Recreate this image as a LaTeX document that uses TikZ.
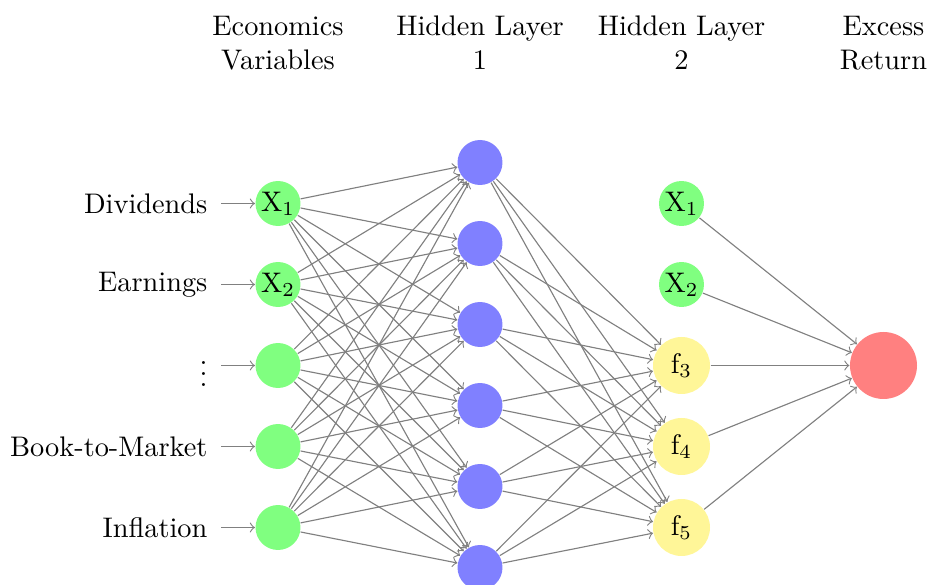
\documentclass[tikz,border=0pt]{standalone}
\definecolor{ingreen}{RGB}{128,255,128}
\definecolor{hidblue}{RGB}{128,128,255}
\definecolor{facyellow}{RGB}{255,246,152}
\definecolor{outred}{RGB}{255,128,128}
\begin{document}
\begin{tikzpicture}[x=0.0124cm,y=-0.0124cm,
  neuron/.style={circle, minimum size=0.558cm, inner sep=0pt},
  inp/.style={neuron, fill=ingreen},
  hid/.style={neuron, fill=hidblue},
  fac/.style={circle, minimum size=0.707cm, inner sep=0pt, fill=facyellow},
  outn/.style={circle, minimum size=0.831cm, inner sep=0pt, fill=outred},
  conn/.style={->, draw=black!50},
  lbl/.style={anchor=east, inner xsep=4.6pt},
  hdr/.style={align=center}]
\useasboundingbox (0,0) rectangle (928,585);

% headers
\node[hdr] (h0) at (278,43) {Economics\\Variables};
\node[hdr] (h1) at (480,43) {Hidden Layer\\1};
\node[hdr] (h2) at (681.5,43) {Hidden Layer\\2};
\node[hdr] (h3) at (883.5,43) {Excess\\Return};

% input layer
\foreach \k/\t/\l in {1/X$_1$/Dividends, 2/X$_2$/Earnings, 3//$\vdots$, 4//Book-to-Market, 5//Inflation}{
  \node[inp] (I-\k) at (278,{203.5+81*(\k-1)}) {\t};
  \node[lbl] (L-\k) at (221,{203.5+81*(\k-1)}) {\l};
  \draw[conn] (L-\k.east) -- (I-\k);
}

% hidden layer 1
\foreach \k in {1,...,6}{
  \node[hid] (H-\k) at (480,{162.5+81*(\k-1)}) {};
}

% hidden layer 2
\node[inp] (G-1) at (681.5,203.5) {X$_1$};
\node[inp] (G-2) at (681.5,284.5) {X$_2$};
\node[fac] (G-3) at (681.5,365.5) {f$_3$};
\node[fac] (G-4) at (681.5,446.5) {f$_4$};
\node[fac] (G-5) at (681.5,527.5) {f$_5$};

% output
\node[outn] (O) at (883.5,365.5) {};

% connections
\foreach \i in {1,...,5}{
  \foreach \j in {1,...,6}{
    \draw[conn] (I-\i) -- (H-\j);
  }
}
\foreach \j in {1,...,6}{
  \foreach \g in {3,4,5}{
    \draw[conn] (H-\j) -- (G-\g);
  }
}
\foreach \g in {1,...,5}{
  \draw[conn] (G-\g) -- (O);
}
\end{tikzpicture}
\end{document}
